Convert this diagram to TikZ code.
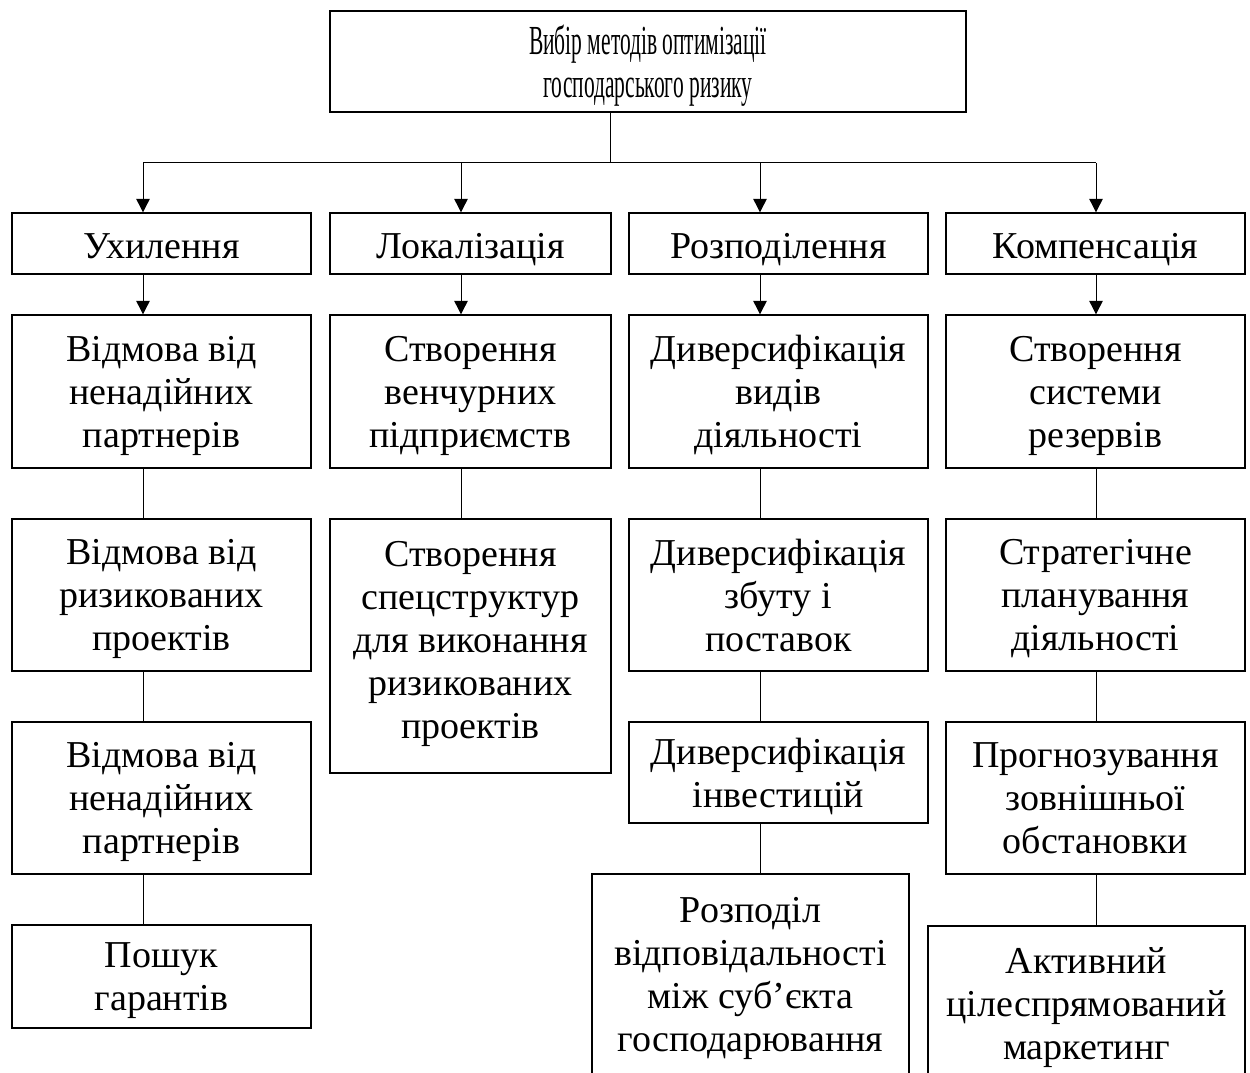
\documentclass[tikz,border=0pt]{standalone}
\usepackage{fontspec}
\setmainfont{Liberation Serif}
\newfontfamily\narrowserif[FakeStretch=0.52]{Liberation Serif}
\usetikzlibrary{arrows.meta}

\tikzset{every picture/.style={line width=0.75pt}}
\tikzset{
  box/.style={draw, line width=1pt, align=center, inner sep=0pt,
    font=\fontsize{28.5}{32.25}\selectfont,
    execute at begin node=\strut, text depth=-2.3pt},
  arr/.style={-{Triangle[length=10pt,width=10pt]}},
}

\begin{document}
\begin{tikzpicture}[x=0.75pt,y=0.75pt,yscale=-1,xscale=1]
\path[use as bounding box] (0,0) rectangle (1250,1073);
\clip (0,0) rectangle (1250,1073);

%Top box
\draw (648,61.5) node [box, minimum width=477pt, minimum height=75.75pt, font=\narrowserif\fontsize{31}{32.25}\selectfont] (top) {Вибір методів оптимізації\\господарського ризику};

%Column heads
\draw (161.5,243.5) node [box, minimum width=224.25pt, minimum height=45.75pt] (ukh) {Ухилення};
\draw (470.5,243.5) node [box, minimum width=210.75pt, minimum height=45.75pt] (lok) {Локалізація};
\draw (778.5,243.5) node [box, minimum width=224.25pt, minimum height=45.75pt] (rozp) {Розподілення};
\draw (1095.5,243.5) node [box, minimum width=224.25pt, minimum height=45.75pt] (komp) {Компенсація};

% Text Node
\draw (161.5,391.5) node [box, minimum width=224.25pt, minimum height=114.75pt] (ukh1) {Відмова від\\ненадійних\\партнерів};
% Text Node
\draw (161.5,595) node [box, minimum width=224.25pt, minimum height=114pt] (ukh2) {Відмова від\\ризикованих\\проектів};
% Text Node
\draw (161.5,798) node [box, minimum width=224.25pt, minimum height=114pt] (ukh3) {Відмова від\\ненадійних\\партнерів};
% Text Node
\draw (161.5,976.5) node [box, minimum width=224.25pt, minimum height=77.25pt] (ukh4) {Пошук\\гарантів};

% Text Node
\draw (470.5,391.5) node [box, minimum width=210.75pt, minimum height=114.75pt] (lok1) {Створення\\венчурних\\підприємств};
% Text Node
\draw (470.5,646) node [box, minimum width=210.75pt, minimum height=190.5pt, text depth=9.7pt] (lok2) {Створення\\спецструктур\\для виконання\\ризикованих\\проектів};

% Text Node
\draw (778.5,391.5) node [box, minimum width=224.25pt, minimum height=114.75pt] (rozp1) {Диверсифікація\\видів\\діяльності};
% Text Node
\draw (778.5,595) node [box, minimum width=224.25pt, minimum height=114pt] (rozp2) {Диверсифікація\\збуту і\\поставок};
% Text Node
\draw (778.5,772.5) node [box, minimum width=224.25pt, minimum height=75.75pt] (rozp3) {Диверсифікація\\інвестицій};
% Text Node
\draw (750.5,974) node [box, minimum width=237.75pt, minimum height=150pt] (rozp4) {Розподіл\\відповідальності\\між суб’єкта\\господарювання};

% Text Node
\draw (1095.5,391.5) node [box, minimum width=224.25pt, minimum height=114.75pt] (komp1) {Створення\\системи\\резервів};
% Text Node
\draw (1095.5,595) node [box, minimum width=224.25pt, minimum height=114pt] (komp2) {Стратегічне\\планування\\діяльності};
% Text Node
\draw (1095.5,798) node [box, minimum width=224.25pt, minimum height=114pt] (komp3) {Прогнозування\\зовнішньої\\обстановки};
% Text Node
\draw (1086.5,1003) node [box, minimum width=237.75pt, minimum height=115.5pt] (komp4) {Активний\\цілеспрямований\\маркетинг};

%Bus and column lines
\coordinate (bus) at (610,163);
\coordinate (c1) at (143,163);
\coordinate (c2) at (461,163);
\coordinate (c3) at (760,163);
\coordinate (c4) at (1096,163);

\draw (top.south -| bus) -- (bus);
\draw (c1) -- (c4);
\foreach \c/\n in {c1/ukh, c2/lok, c3/rozp, c4/komp} {
  \draw [arr] (\c) -- (\c |- \n.north);
  \draw [arr] (\c |- \n.south) -- (\c |- \n1.north);
}

%Plain links
\draw (c1 |- ukh1.south) -- (c1 |- ukh2.north);
\draw (c1 |- ukh2.south) -- (c1 |- ukh3.north);
\draw (c1 |- ukh3.south) -- (c1 |- ukh4.north);
\draw (c2 |- lok1.south) -- (c2 |- lok2.north);
\draw (c3 |- rozp1.south) -- (c3 |- rozp2.north);
\draw (c3 |- rozp2.south) -- (c3 |- rozp3.north);
\draw (c3 |- rozp3.south) -- (c3 |- rozp4.north);
\draw (c4 |- komp1.south) -- (c4 |- komp2.north);
\draw (c4 |- komp2.south) -- (c4 |- komp3.north);
\draw (c4 |- komp3.south) -- (c4 |- komp4.north);

\end{tikzpicture}
\end{document}
